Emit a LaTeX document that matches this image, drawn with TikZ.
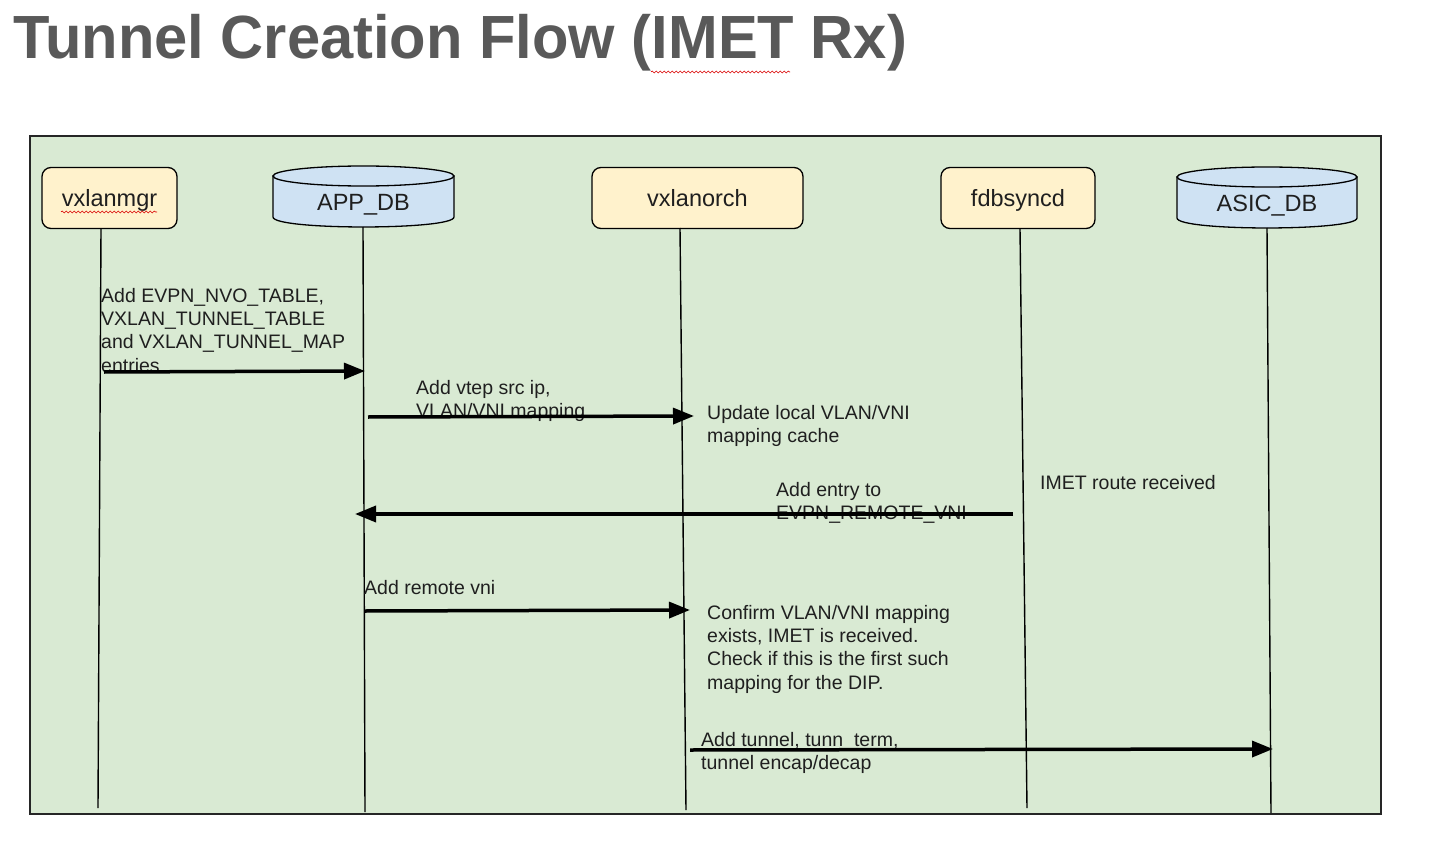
\documentclass[tikz,border=0pt]{standalone}
\usepackage{fontspec}
\setmainfont{Liberation Sans}
\usetikzlibrary{arrows.meta,decorations.pathmorphing}
\definecolor{slidegreen}{HTML}{D9EAD3}
\definecolor{procyellow}{HTML}{FFF2CC}
\definecolor{dbblue}{HTML}{CFE2F3}
\definecolor{titlegray}{HTML}{595959}
\definecolor{ink}{HTML}{1F1F1F}

\begin{document}
\begin{tikzpicture}[
    x=1pt, y=-1pt,
    >={Triangle[length=21pt,width=16pt]},
    proc/.style={draw=black, line width=1.3pt, fill=procyellow,
        rounded corners=9pt, minimum height=61pt, inner sep=0pt,
        text height=18pt, text depth=0pt,
        text=ink, font=\fontsize{23.5}{28}\selectfont},
    dbbody/.style={draw=black, line width=1.3pt, fill=dbblue},
    dblabel/.style={anchor=base, inner sep=0pt, text=ink, font=\fontsize{23.5}{28}\selectfont},
    lifeline/.style={line width=1.4pt},
    msg/.style={->, line width=3.5pt},
    note/.style={anchor=north west, align=left, inner sep=0pt, text=ink,
        font=\fontsize{19.5}{23.3}\selectfont},
    spell/.style={draw=red!85!black, line width=0.6pt, decorate,
        decoration={snake, amplitude=1pt, segment length=4pt}},
    ]

    \useasboundingbox (0,0) rectangle (1449,848);

    % title
    \node[anchor=base west, inner sep=0pt, text=titlegray,
          font=\fontsize{61}{70}\selectfont\bfseries] (title) at (13,59)
          {\scalebox{0.978}[1]{Tunnel Creation Flow (IMET Rx)}};
    \draw[spell] (651,72) -- (790,72);

    % slide background
    \draw[line width=1.5pt, draw=black!85, fill=slidegreen] (30,136) rectangle (1381,814);

    % processes
    \node[proc, minimum width=135pt] (mgr) at (109.5,198) {vxlanmgr};
    \draw[spell] (61,212) -- (157,212);
    \node[proc, minimum width=211pt] (orch) at (697.5,198) {vxlanorch};
    \node[proc, minimum width=154pt] (fdb) at (1018,198) {fdbsyncd};

    % APP_DB
    \fill[dbbody] (273,176) -- (273,217) .. controls (273,230.3) and (454,230.3) .. (454,217)
        -- (454,176) -- cycle;
    \draw[dbbody] (363.5,176) ellipse (90.5 and 10);
    \node[dblabel] (app) at (363.5,210) {APP\_DB};

    % ASIC_DB
    \fill[dbbody] (1177,177) -- (1177,218) .. controls (1177,231.3) and (1357,231.3) .. (1357,218)
        -- (1357,177) -- cycle;
    \draw[dbbody] (1267,177) ellipse (90 and 10);
    \node[dblabel] (asic) at (1267,211.5) {ASIC\_DB};

    % lifelines
    \coordinate (mgrTop) at (101,229);   \coordinate (mgrEnd) at (98,808);
    \coordinate (appTop) at (363,227);   \coordinate (appEnd) at (365,812);
    \coordinate (orchTop) at (680,228);  \coordinate (orchEnd) at (686,810);
    \coordinate (fdbTop) at (1020,229);  \coordinate (fdbEnd) at (1027,808);
    \coordinate (asicTop) at (1267,228); \coordinate (asicEnd) at (1271,813);
    \draw[lifeline] (mgrTop) -- (mgrEnd);
    \draw[lifeline] (appTop) -- (appEnd);
    \draw[lifeline] (orchTop) -- (orchEnd);
    \draw[lifeline] (fdbTop) -- (fdbEnd);
    \draw[lifeline] (asicTop) -- (asicEnd);

    % vxlanmgr -> APP_DB
    \node[note] (tables) at (101,288)
        {Add EVPN\_NVO\_TABLE,\\VXLAN\_TUNNEL\_TABLE\\and VXLAN\_TUNNEL\_MAP\\entries};
    \coordinate (m1a) at (104,372); \coordinate (m1b) at (365,371);
    \draw[msg] (m1a) -- (m1b);

    % APP_DB -> vxlanorch
    \node[note] (vtep) at (416,380) {Add vtep src ip,\\VLAN/VNI mapping};
    \coordinate (m2a) at (368,417); \coordinate (m2b) at (694,416);
    \draw[msg] (m2a) -- (m2b);
    \node[note] (cache) at (707,405) {Update local VLAN/VNI\\mapping cache};

    % fdbsyncd -> APP_DB
    \node[note] (imet) at (1040,475) {IMET route received};
    \node[note] (remote) at (776,482) {Add entry to\\EVPN\_REMOTE\_VNI};
    \coordinate (m3a) at (1013,514); \coordinate (m3b) at (355,514);
    \draw[msg] (m3a) -- (m3b);

    % APP_DB -> vxlanorch
    \node[note] (rvni) at (364,580) {Add remote vni};
    \coordinate (m4a) at (365,611); \coordinate (m4b) at (690,610);
    \draw[msg] (m4a) -- (m4b);
    \node[note] (confirm) at (707,605)
        {Confirm VLAN/VNI mapping\\exists, IMET is received.\\Check if this is the first such\\mapping for the DIP.};

    % vxlanorch -> ASIC_DB
    \node[note] (tunnel) at (701,732) {Add tunnel, tunn\_term,\\tunnel encap/decap};
    \coordinate (m5a) at (690,750); \coordinate (m5b) at (1273,749);
    \draw[msg] (m5a) -- (m5b);

\end{tikzpicture}
\end{document}
